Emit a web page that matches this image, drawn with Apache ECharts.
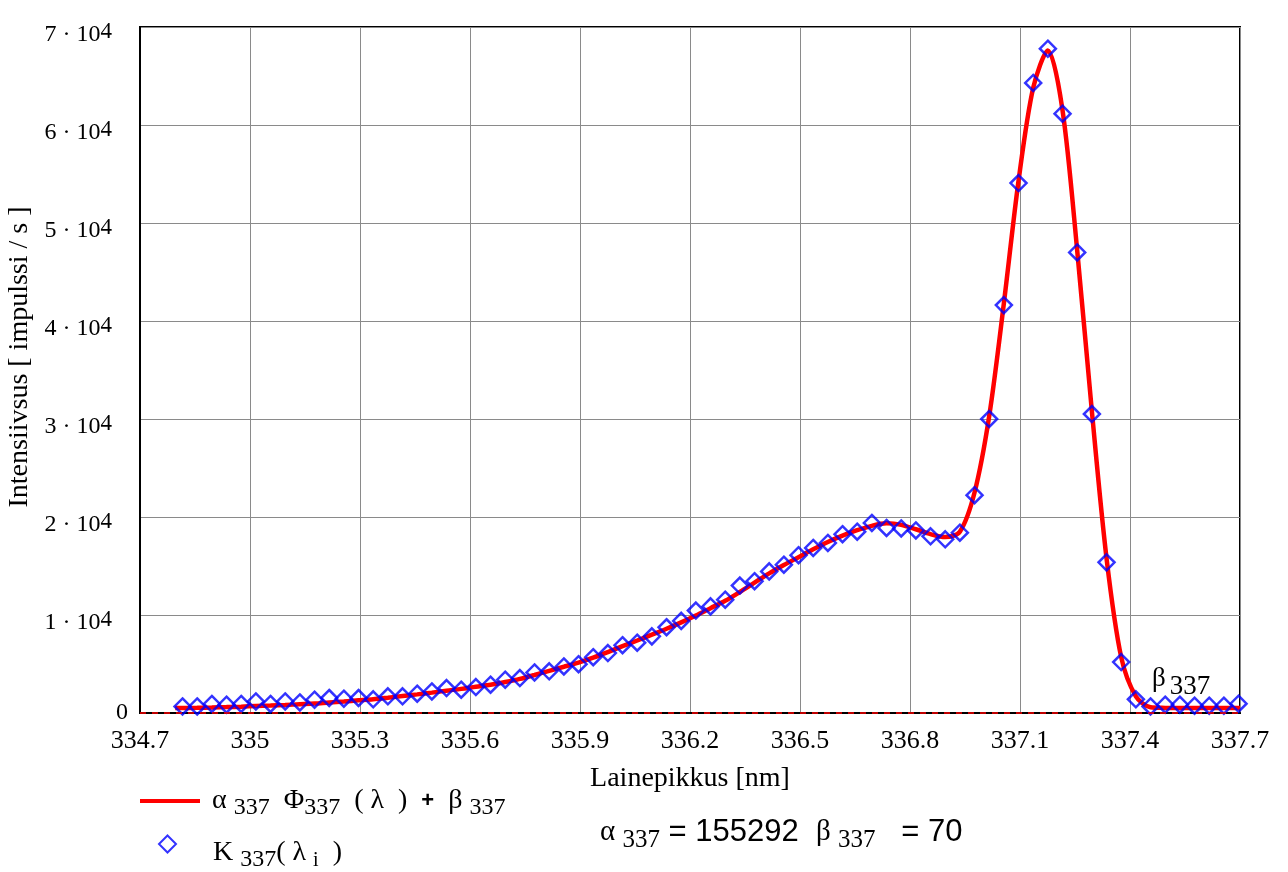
<!DOCTYPE html>
<html>
<head>
<meta charset="utf-8">
<script src="https://cdn.jsdelivr.net/npm/echarts@6/dist/echarts.min.js"></script>
<style>
  html, body { margin: 0; padding: 0; background: #ffffff; }
  #chart { width: 1288px; height: 872px; }
</style>
</head>
<body>
<div id="chart"></div>
<script>
// Measured spectrum K337(λi): wavelength [nm] and intensity [impulssi / s]
const wavelengths = [
  334.816, 334.856, 334.896, 334.936, 334.976, 335.016, 335.056, 335.096, 335.136, 335.176,
  335.216, 335.256, 335.296, 335.336, 335.376, 335.416, 335.456, 335.496, 335.536, 335.576,
  335.616, 335.656, 335.696, 335.736, 335.776, 335.816, 335.856, 335.896, 335.936, 335.976,
  336.016, 336.056, 336.096, 336.136, 336.176, 336.216, 336.256, 336.296, 336.336, 336.376,
  336.416, 336.456, 336.496, 336.536, 336.576, 336.616, 336.656, 336.696, 336.736, 336.776,
  336.816, 336.856, 336.896, 336.936, 336.976, 337.016, 337.056, 337.096, 337.136, 337.176,
  337.216, 337.256, 337.296, 337.336, 337.376, 337.416, 337.456, 337.496, 337.536, 337.576,
  337.616, 337.656, 337.696
];
const measured = [
  670, 670, 920, 850, 920, 1180, 920, 1180, 1080, 1360,
  1530, 1460, 1530, 1400, 1700, 1700, 1970, 2200, 2550, 2380,
  2650, 2890, 3400, 3570, 4140, 4250, 4750, 4980, 5690, 6120,
  6920, 7170, 7820, 8750, 9400, 10450, 10880, 11560, 13000, 13450,
  14450, 15130, 16100, 16840, 17350, 18250, 18500, 19390, 18880, 18830,
  18630, 18030, 17720, 18400, 22230, 30000, 41620, 54080, 64290, 67790,
  61150, 47000, 30510, 15370, 5200, 1400, 670, 850, 850, 750,
  750, 750, 950
];

// Fitted model α337·Φ337(λ) + β337
const fitWavelengths = [
  334.796,
  334.816, 334.856, 334.896, 334.936, 334.976, 335.016, 335.056, 335.096, 335.136, 335.176,
  335.216, 335.256, 335.296, 335.336, 335.376, 335.416, 335.456, 335.496, 335.536, 335.576,
  335.616, 335.656, 335.696, 335.736, 335.776, 335.816, 335.856, 335.896, 335.936, 335.976,
  336.016, 336.056, 336.096, 336.136, 336.176, 336.216, 336.256, 336.296, 336.336, 336.376,
  336.416, 336.456, 336.496, 336.536, 336.576, 336.616, 336.656, 336.696, 336.736, 336.776,
  336.816, 336.856, 336.896, 336.936, 336.976, 337.016, 337.056, 337.096, 337.136, 337.176,
  337.216, 337.256, 337.296, 337.336, 337.376, 337.416, 337.456, 337.496, 337.536, 337.576,
  337.616, 337.656, 337.696,
  337.7
];
const fitIntensity = [
  500,
  510, 530, 560, 600, 650, 710, 760, 820, 890, 960,
  1080, 1180, 1290, 1400, 1560, 1730, 1900, 2080, 2280, 2460,
  2680, 2880, 3160, 3480, 3880, 4300, 4720, 5150, 5650, 6220,
  6820, 7400, 7990, 8600, 9250, 9950, 10700, 11450, 12350, 13300,
  14250, 15100, 15900, 16700, 17450, 18100, 18650, 19100, 19350, 19200,
  18750, 18250, 17950, 18500, 22500, 30300, 41800, 54300, 63800, 67600,
  61500, 47200, 30800, 15800, 5700, 1700, 580, 520, 510, 500,
  500, 500, 500,
  500
];

const wavelengthTicks = [334.7, 335, 335.3, 335.6, 335.9, 336.2, 336.5, 336.8, 337.1, 337.4, 337.7];
const intensityTicks = [0, 10000, 20000, 30000, 40000, 50000, 60000, 70000];

const alpha337 = 155292;
const beta337 = 70;

const SERIF = '"Liberation Serif", "Times New Roman", serif';
const SANS = '"Liberation Sans", Arial, sans-serif';

const FIT_NAME = 'fit';
const MEAS_NAME = 'measured';

const chart = echarts.init(document.getElementById('chart'), null, { renderer: 'canvas' });

// rich styles shared by the legend entries
const mathRich = {
  g: { fontFamily: SERIF, fontSize: 28, color: '#000', lineHeight: 28 },
  s: { fontFamily: SERIF, fontSize: 24, color: '#000', lineHeight: 24, padding: [14, 0, 0, 0] },
  si: { fontFamily: SERIF, fontSize: 20, color: '#000', lineHeight: 20, padding: [16, 0, 0, 0] },
  p: { fontFamily: SANS, fontSize: 22, fontWeight: 'bold', color: '#000', lineHeight: 28 }
};

const option = {
  backgroundColor: '#ffffff',
  animation: false,
  grid: {
    left: 140, right: 48, top: 27, bottom: 159,
    containLabel: false,
    outerBoundsMode: 'none',
    show: true, borderColor: '#000', borderWidth: 2, backgroundColor: 'transparent'
  },
  xAxis: {
    type: 'value',
    min: wavelengthTicks[0],
    max: wavelengthTicks[wavelengthTicks.length - 1],
    name: 'Lainepikkus [nm]',
    nameLocation: 'middle',
    nameGap: 52,
    nameTextStyle: { fontFamily: SERIF, fontSize: 28, color: '#000' },
    axisLine: { onZero: false, lineStyle: { color: '#000', width: 2 } },
    axisTick: { show: false, customValues: wavelengthTicks },
    axisLabel: {
      customValues: wavelengthTicks,
      fontFamily: SERIF, fontSize: 26, color: '#000', margin: 15,
      formatter: v => String(+(+v).toFixed(1))
    },
    splitLine: { show: true, lineStyle: { color: '#8a8a8a', width: 1 } }
  },
  yAxis: {
    type: 'value',
    min: intensityTicks[0],
    max: intensityTicks[intensityTicks.length - 1],
    interval: 10000,
    name: 'Intensiivsus [ impulssi / s ]',
    nameLocation: 'middle',
    nameGap: 100,
    nameTextStyle: { fontFamily: SERIF, fontSize: 28, color: '#000', padding: [0, 0, 0, 26] },
    axisLine: { lineStyle: { color: '#000', width: 2 } },
    axisTick: { show: false },
    axisLabel: {
      margin: 12,
      formatter: v => v === 0 ? '{z|0}' : '{m|' + (v / 10000) + ' · 10}{e|4}{gap| }',
      rich: {
        z: { fontFamily: SERIF, fontSize: 24, color: '#000', lineHeight: 24 },
        m: { fontFamily: SERIF, fontSize: 24, color: '#000', lineHeight: 24, padding: [15, 0, 0, 0] },
        e: { fontFamily: SERIF, fontSize: 23, color: '#000', lineHeight: 23, verticalAlign: 'top', padding: [5, 0, 0, 0] },
        gap: { fontSize: 10, width: 16 }
      }
    },
    splitLine: { show: true, lineStyle: { color: '#8a8a8a', width: 1 } }
  },
  legend: [
    {
      data: [{ name: FIT_NAME, icon: 'rect' }],
      orient: 'vertical',
      left: 140, top: 782,
      padding: 0,
      itemWidth: 60, itemHeight: 4,
      selectedMode: false,
      formatter: () => '{g|α }{s|337}{g|  Φ}{s|337}{g|  ( λ  )  }{p|+}{g|  β }{s|337}',
      textStyle: { padding: [0, 0, 0, 7], rich: mathRich }
    },
    {
      data: [MEAS_NAME],
      orient: 'vertical',
      left: 158, top: 834,
      padding: 0,
      itemWidth: 17, itemHeight: 17,
      selectedMode: false,
      formatter: () => '{g|K }{s|337}{g|( λ }{si|i}{g|  )}',
      textStyle: { padding: [18, 0, 0, 32], rich: mathRich }
    }
  ],
  graphic: [
    {
      type: 'text',
      left: 1152, top: 658,
      silent: true,
      style: {
        text: '{b|β}{n|337}',
        rich: {
          b: { fontFamily: SERIF, fontSize: 27, fill: '#000', lineHeight: 28 },
          n: { fontFamily: SERIF, fontSize: 27, fill: '#000', lineHeight: 27, padding: [15, 0, 0, 4] }
        }
      }
    },
    {
      type: 'text',
      left: 600, top: 812,
      silent: true,
      style: {
        text: '{a|α }{s|337}{n| = ' + alpha337 + '  }{a|β }{s|337}{n|   = ' + beta337 + '}',
        rich: {
          a: { fontFamily: SERIF, fontSize: 29, fill: '#000', lineHeight: 30 },
          s: { fontFamily: SERIF, fontSize: 25, fill: '#000', lineHeight: 25, padding: [16, 0, 0, 0] },
          n: { fontFamily: SANS, fontSize: 31, fill: '#000', lineHeight: 31 }
        }
      }
    }
  ],
  series: [
    {
      name: FIT_NAME,
      type: 'line',
      data: fitWavelengths.map((w, i) => [w, fitIntensity[i]]),
      symbol: 'none',
      smooth: 0.3,
      lineStyle: { color: '#ff0000', width: 4.5 },
      itemStyle: { color: '#ff0000' },
      z: 2,
      markLine: {
        silent: true,
        symbol: 'none',
        label: { show: false },
        lineStyle: { color: '#ff0000', type: [6, 6], width: 1.5 },
        data: [{ yAxis: 0 }]
      }
    },
    {
      name: MEAS_NAME,
      type: 'scatter',
      data: wavelengths.map((w, i) => [w, measured[i]]),
      symbol: 'diamond',
      symbolSize: 16,
      itemStyle: { color: 'rgba(0,0,0,0)', borderColor: '#0000ff', borderWidth: 2.5 },
      z: 3
    }
  ]
};

chart.setOption(option);
</script>
</body>
</html>
